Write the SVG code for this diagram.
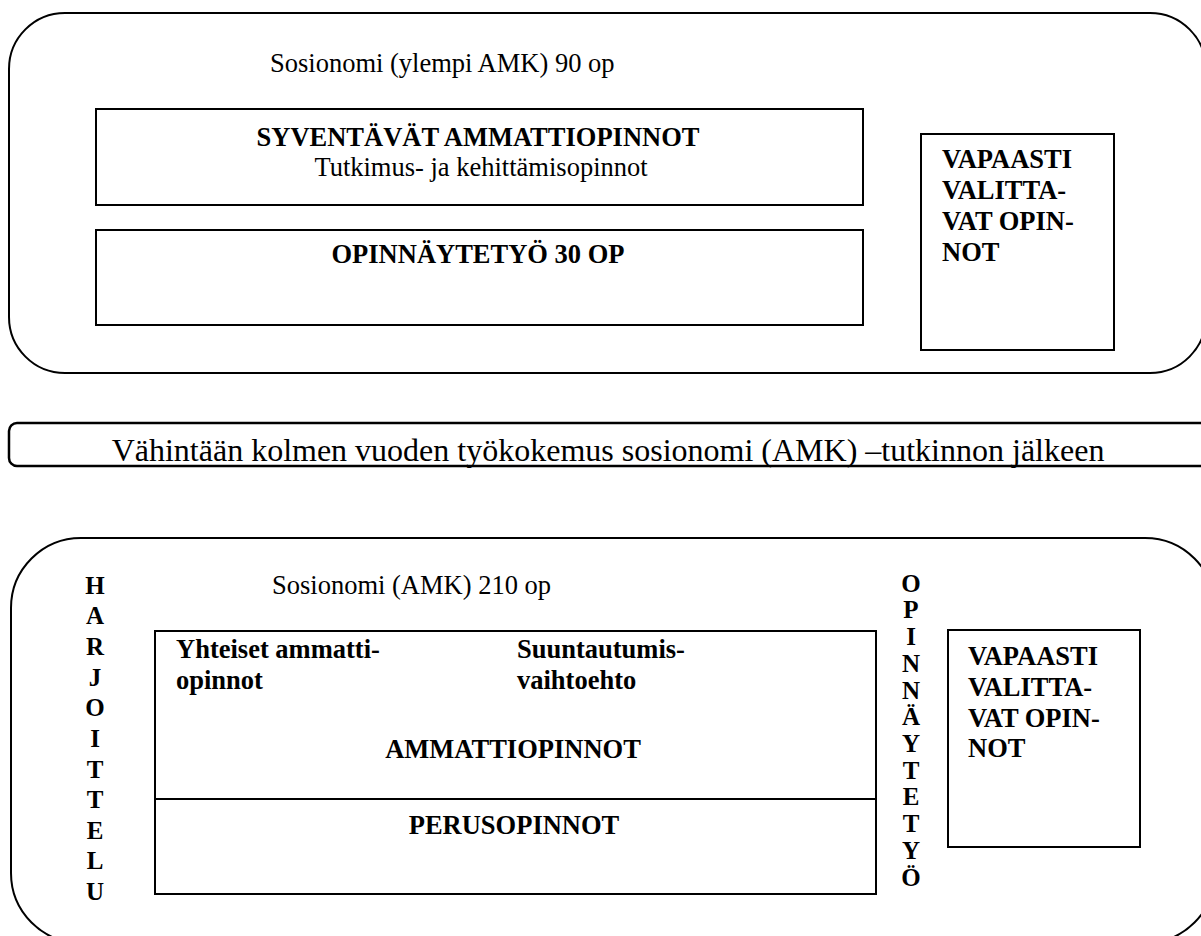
<svg xmlns="http://www.w3.org/2000/svg" width="1201" height="936" viewBox="0 0 1201 936">
<style>
.frame{fill:none;stroke:#000;stroke-width:2}
.box{fill:#fff;stroke:#000;stroke-width:2}
text{font-family:"Liberation Serif","Times New Roman",serif;fill:#000}
.r{font-size:26.5px}
.b{font-size:26.5px;font-weight:bold}
.big{font-size:32px}
.v{font-size:25px;font-weight:bold}
.c{text-anchor:middle}
</style>
<rect width="1201" height="936" fill="#fff"/>
<g id="master-programme">
<rect class="frame" x="9" y="13" width="1197" height="360" rx="56" ry="56"/>
<text class="r" x="270" y="72">Sosionomi (ylempi AMK) 90 op</text>
</g>
<g id="syventavat">
<rect class="box" x="96" y="109" width="767" height="96"/>
<text class="b c" x="478" y="146">SYVENTÄVÄT AMMATTIOPINNOT</text>
<text class="r c" x="481" y="176">Tutkimus- ja kehittämisopinnot</text>
</g>
<g id="opinnaytetyo-30">
<rect class="box" x="96" y="230" width="767" height="95"/>
<text class="b c" x="478" y="263">OPINNÄYTETYÖ 30 OP</text>
</g>
<g id="vapaasti-top">
<rect class="box" x="921" y="134" width="193" height="216"/>
<text class="b" x="942" y="168">VAPAASTI</text>
<text class="b" x="942" y="199">VALITTA-</text>
<text class="b" x="942" y="230">VAT OPIN-</text>
<text class="b" x="942" y="261">NOT</text>
</g>
<g id="work-experience">
<rect class="frame" x="9" y="423" width="1210" height="43" rx="8" ry="8" style="stroke-width:2.5"/>
<text class="big c" x="608" y="461">Vähintään kolmen vuoden työkokemus sosionomi (AMK) –tutkinnon jälkeen</text>
</g>
<g id="bachelor-programme">
<rect class="frame" x="11" y="538" width="1204" height="405" rx="70" ry="70"/>
<text class="r" x="272" y="594">Sosionomi (AMK) 210 op</text>
</g>
<g id="harjoittelu">
<text class="v c" x="95" y="593.5">H</text>
<text class="v c" x="95" y="624">A</text>
<text class="v c" x="95" y="655">R</text>
<text class="v c" x="95" y="685.5">J</text>
<text class="v c" x="95" y="716">O</text>
<text class="v c" x="95" y="747">I</text>
<text class="v c" x="95" y="777.5">T</text>
<text class="v c" x="95" y="808">T</text>
<text class="v c" x="95" y="838.5">E</text>
<text class="v c" x="95" y="869">L</text>
<text class="v c" x="95" y="900">U</text>
</g>
<g id="ammattiopinnot">
<rect class="box" x="155" y="631" width="721" height="263"/>
<line x1="155" y1="799" x2="876" y2="799" stroke="#000" stroke-width="2"/>
<text class="b" x="176" y="657.5">Yhteiset ammatti-</text>
<text class="b" x="176" y="688.5">opinnot</text>
<text class="b" x="517" y="657.5">Suuntautumis-</text>
<text class="b" x="517" y="688.5">vaihtoehto</text>
<text class="b c" x="513" y="758">AMMATTIOPINNOT</text>
</g>
<g id="perusopinnot">
<text class="b c" x="514" y="834">PERUSOPINNOT</text>
</g>
<g id="opinnaytetyo-vertical">
<text class="v c" x="911" y="591.7">O</text>
<text class="v c" x="911" y="618.4">P</text>
<text class="v c" x="911" y="645">I</text>
<text class="v c" x="911" y="671.8">N</text>
<text class="v c" x="911" y="698.5">N</text>
<text class="v c" x="911" y="725.2">Ä</text>
<text class="v c" x="911" y="752">Y</text>
<text class="v c" x="911" y="778.6">T</text>
<text class="v c" x="911" y="805.3">E</text>
<text class="v c" x="911" y="832">T</text>
<text class="v c" x="911" y="858.8">Y</text>
<text class="v c" x="911" y="885.6">Ö</text>
</g>
<g id="vapaasti-bottom">
<rect class="box" x="948" y="630" width="192" height="217"/>
<text class="b" x="968" y="665">VAPAASTI</text>
<text class="b" x="968" y="696">VALITTA-</text>
<text class="b" x="968" y="727">VAT OPIN-</text>
<text class="b" x="968" y="757">NOT</text>
</g>
</svg>
